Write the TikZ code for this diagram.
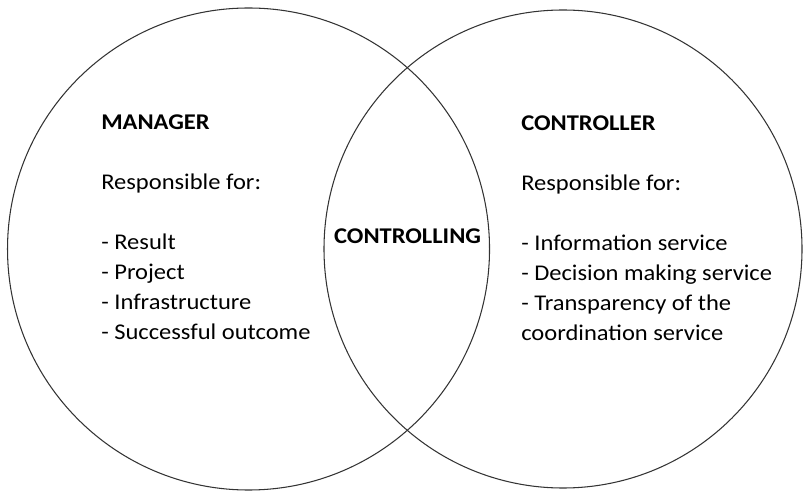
\documentclass[tikz,border=0pt]{standalone}
\usepackage{fontspec}
\setmainfont[FakeStretch=1.09]{Carlito}
\usepackage{tikz}
\tikzset{
  ring/.style={draw=black!80, line width=0.75pt},
  blocktext/.style={font=\fontsize{16}{21.3}\selectfont, align=left, anchor=north west, inner sep=0pt},
  overlaplabel/.style={font=\fontsize{16}{21.3}\selectfont\bfseries, anchor=base, inner sep=0pt},
}

\begin{document}
\begin{tikzpicture}
\useasboundingbox (0,0) rectangle (20.075,12.325);
\draw[ring] (6.213,6.100) circle (6.025);
\draw[ring] (14.075,6.100) circle (5.975);
\node[blocktext] (manager) at (2.525,9.460) {\textbf{MANAGER}\\[0.75cm]
  Responsible for:\\[0.75cm]
  - Result\\
  - Project\\
  - Infrastructure\\
  - Successful outcome};
\node[blocktext] (controller) at (13.025,9.435) {\textbf{CONTROLLER}\\[0.75cm]
  Responsible for:\\[0.75cm]
  - Information service\\
  - Decision making service\\
  - Transparency of the\\
  coordination service};
\node[overlaplabel] (controlling) at (10.190,6.240) {CONTROLLING};
\end{tikzpicture}
\end{document}
